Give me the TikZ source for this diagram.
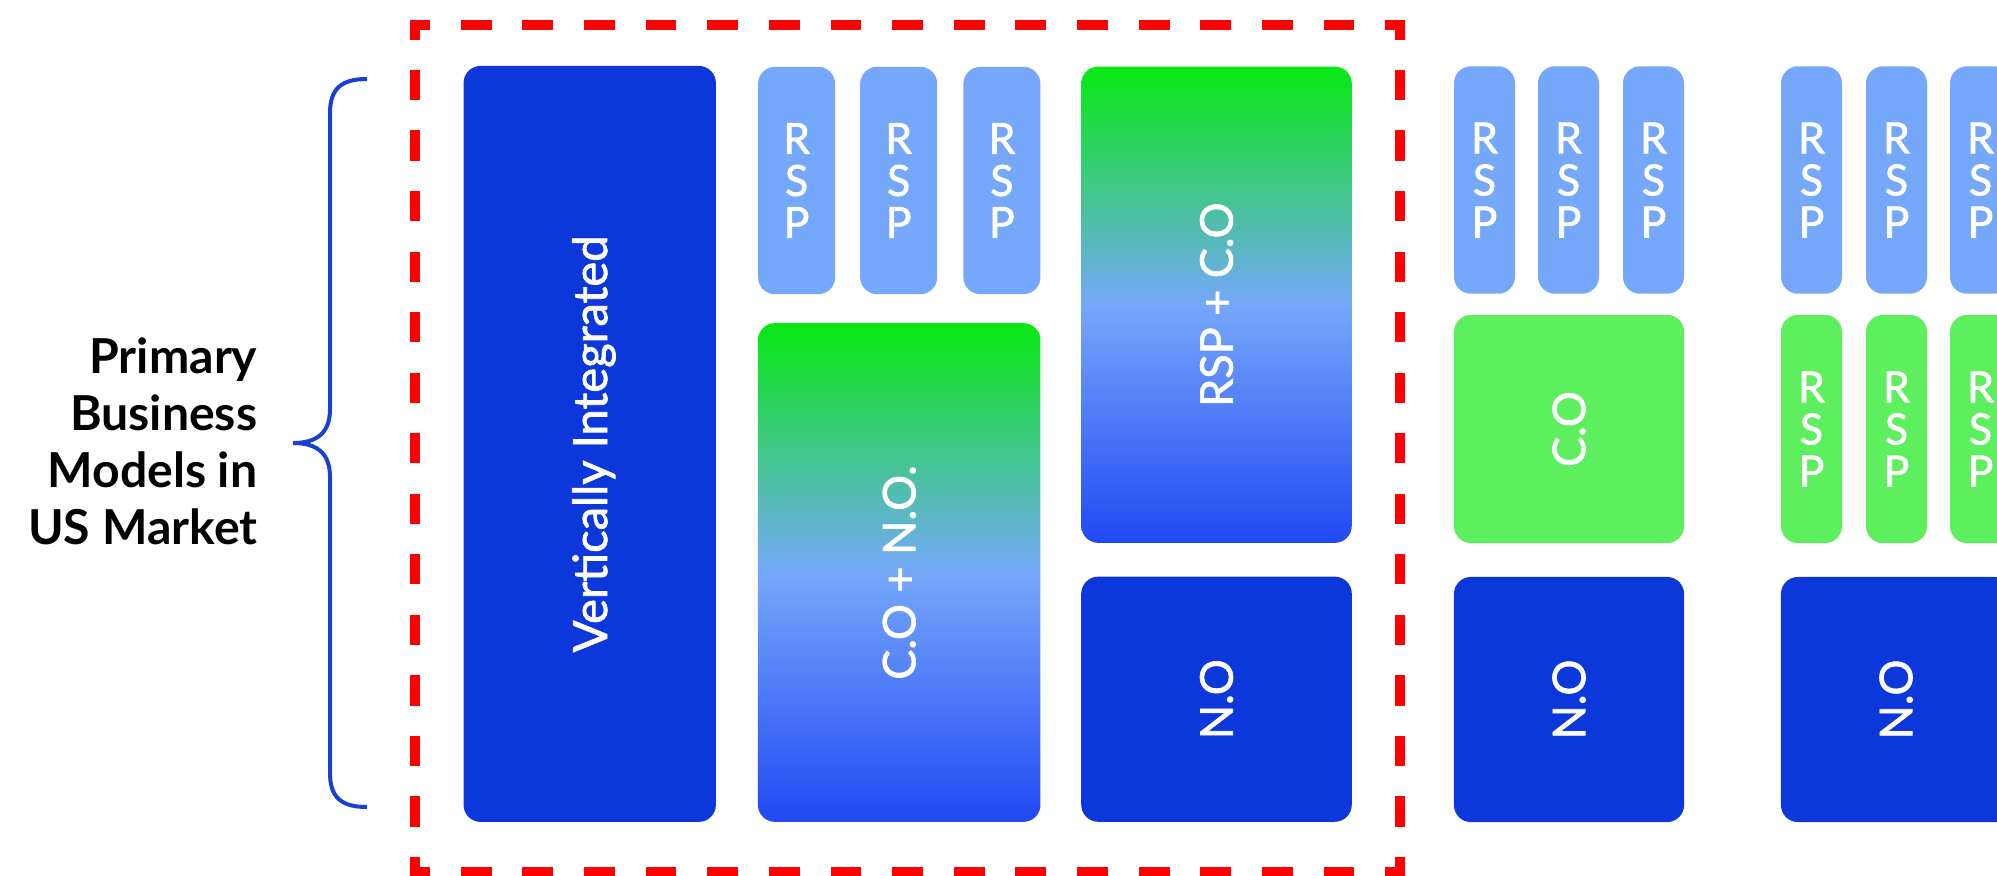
\documentclass[tikz,border=0pt]{standalone}
\usepackage{fontspec}
\usepackage{graphicx}
\setmainfont{Lato}
\newfontfamily\medlato{Lato}[FakeBold=1.6]
\definecolor{dkblue}{HTML}{0C38DB}
\definecolor{ltblue}{HTML}{75A8FA}
\definecolor{ltgreen}{HTML}{5DEF5D}
\definecolor{gtop}{HTML}{08E812}
\definecolor{gbot}{HTML}{2248F4}
\definecolor{bracecol}{HTML}{1A3FD6}
\definecolor{dashred}{HTML}{FF0000}
\newcommand{\lblfont}{\medlato\fontsize{12.8pt}{15pt}\selectfont}
\newcommand{\rspfont}{\medlato\fontsize{12.2pt}{11.95pt}\selectfont}
\begin{document}
\begin{tikzpicture}[x=0.01cm,y=-0.01cm,
  anybox/.style={rectangle, rounded corners=0.17cm, inner sep=0pt, text=white, align=center},
  dkbox/.style={anybox, fill=dkblue, font=\lblfont},
  gradbox/.style={anybox, top color=gtop, bottom color=gbot, middle color=ltblue, font=\lblfont},
  grbox/.style={anybox, fill=ltgreen, font=\lblfont},
  rspblue/.style={anybox, fill=ltblue, font=\rspfont, minimum width=0.61cm, minimum height=2.273cm},
  rspgreen/.style={anybox, fill=ltgreen, font=\rspfont, minimum width=0.61cm, minimum height=2.28cm},
  hdash/.style={draw=dashred, line width=0.1cm, line cap=rect, dash pattern=on 0.208cm off 0.408cm, dash phase=0.104cm},
  vdash/.style={draw=dashred, line width=0.1cm, line cap=rect, dash pattern=on 0.2025cm off 0.4025cm, dash phase=0.10125cm},
  bracestyle/.style={draw=bracecol, line width=0.04cm}
]
\useasboundingbox (0,0) rectangle (1997,875);
\clip (0,0) rectangle (1997,875);

% heading text
\node[anchor=east, inner sep=0pt, align=right, font=\fontsize{13.7pt}{16.2pt}\selectfont\bfseries] (title) at (258,441)
  {Primary\\Business\\Models in\\US Market};

% brace
\coordinate (bt) at (367,79);
\coordinate (bm) at (293,443);
\coordinate (bb) at (367,807);
\draw[bracestyle] (bt) .. controls (342,79) and (330,88) .. (330,113) -- (330,409)
  .. controls (330,432) and (318,443) .. (bm)
  .. controls (318,443) and (330,454) .. (330,477) -- (330,773)
  .. controls (330,798) and (342,807) .. (bb);

% dashed frame
\coordinate (fa) at (414.5,24.5);
\coordinate (fb) at (1400,24.5);
\coordinate (fc) at (1400,871.5);
\coordinate (fd) at (414.5,871.5);
\path[hdash] (fa) -- (fb);
\path[hdash] (fd) -- (fc);
\path[vdash] (fa) -- (fd);
\path[vdash] (fb) -- (fc);

% group 1 (inside frame)
\node[dkbox, minimum width=2.522cm, minimum height=7.555cm] (vi) at (589.7,443.9)
  {\rotatebox{90}{\fontsize{13.4pt}{15pt}\selectfont\raisebox{0pt}[\height][0pt]{Vertically Integrated}}};
\node[rspblue, minimum width=0.77cm] (r11) at (796.6,180.5) {R\\S\\P};
\node[rspblue, minimum width=0.77cm] (r12) at (898.7,180.5) {R\\S\\P};
\node[rspblue, minimum width=0.77cm] (r13) at (1001.9,180.5) {R\\S\\P};
\node[gradbox, minimum width=2.824cm, minimum height=4.984cm] (cono) at (899.2,572.5) {\rotatebox{90}{C.O + N.O.}};
\node[gradbox, minimum width=2.704cm, minimum height=4.76cm] (rspco) at (1216.5,304.7) {\rotatebox{90}{RSP + C.O}};
\node[dkbox, minimum width=2.704cm, minimum height=2.45cm] (no1) at (1216.5,699.2) {\rotatebox{90}{N.O}};

% group 2
\node[rspblue] (r21) at (1484.5,180) {R\\S\\P};
\node[rspblue] (r22) at (1568.5,180) {R\\S\\P};
\node[rspblue] (r23) at (1653.5,180) {R\\S\\P};
\node[grbox, minimum width=2.30cm, minimum height=2.28cm] (co2) at (1569,429) {\rotatebox{90}{C.O}};
\node[dkbox, minimum width=2.30cm, minimum height=2.45cm] (no2) at (1569,699.5) {\rotatebox{90}{N.O}};

% group 3
\node[rspblue] (r31) at (1811.5,180) {R\\S\\P};
\node[rspblue] (r32) at (1896.5,180) {R\\S\\P};
\node[rspblue] (r33) at (1980.5,180) {R\\S\\P};
\node[rspgreen] (g31) at (1811.5,429) {R\\S\\P};
\node[rspgreen] (g32) at (1896.5,429) {R\\S\\P};
\node[rspgreen] (g33) at (1980.5,429) {R\\S\\P};
\node[dkbox, minimum width=2.30cm, minimum height=2.45cm] (no3) at (1896,699.5) {\rotatebox{90}{N.O}};
\end{tikzpicture}
\end{document}
